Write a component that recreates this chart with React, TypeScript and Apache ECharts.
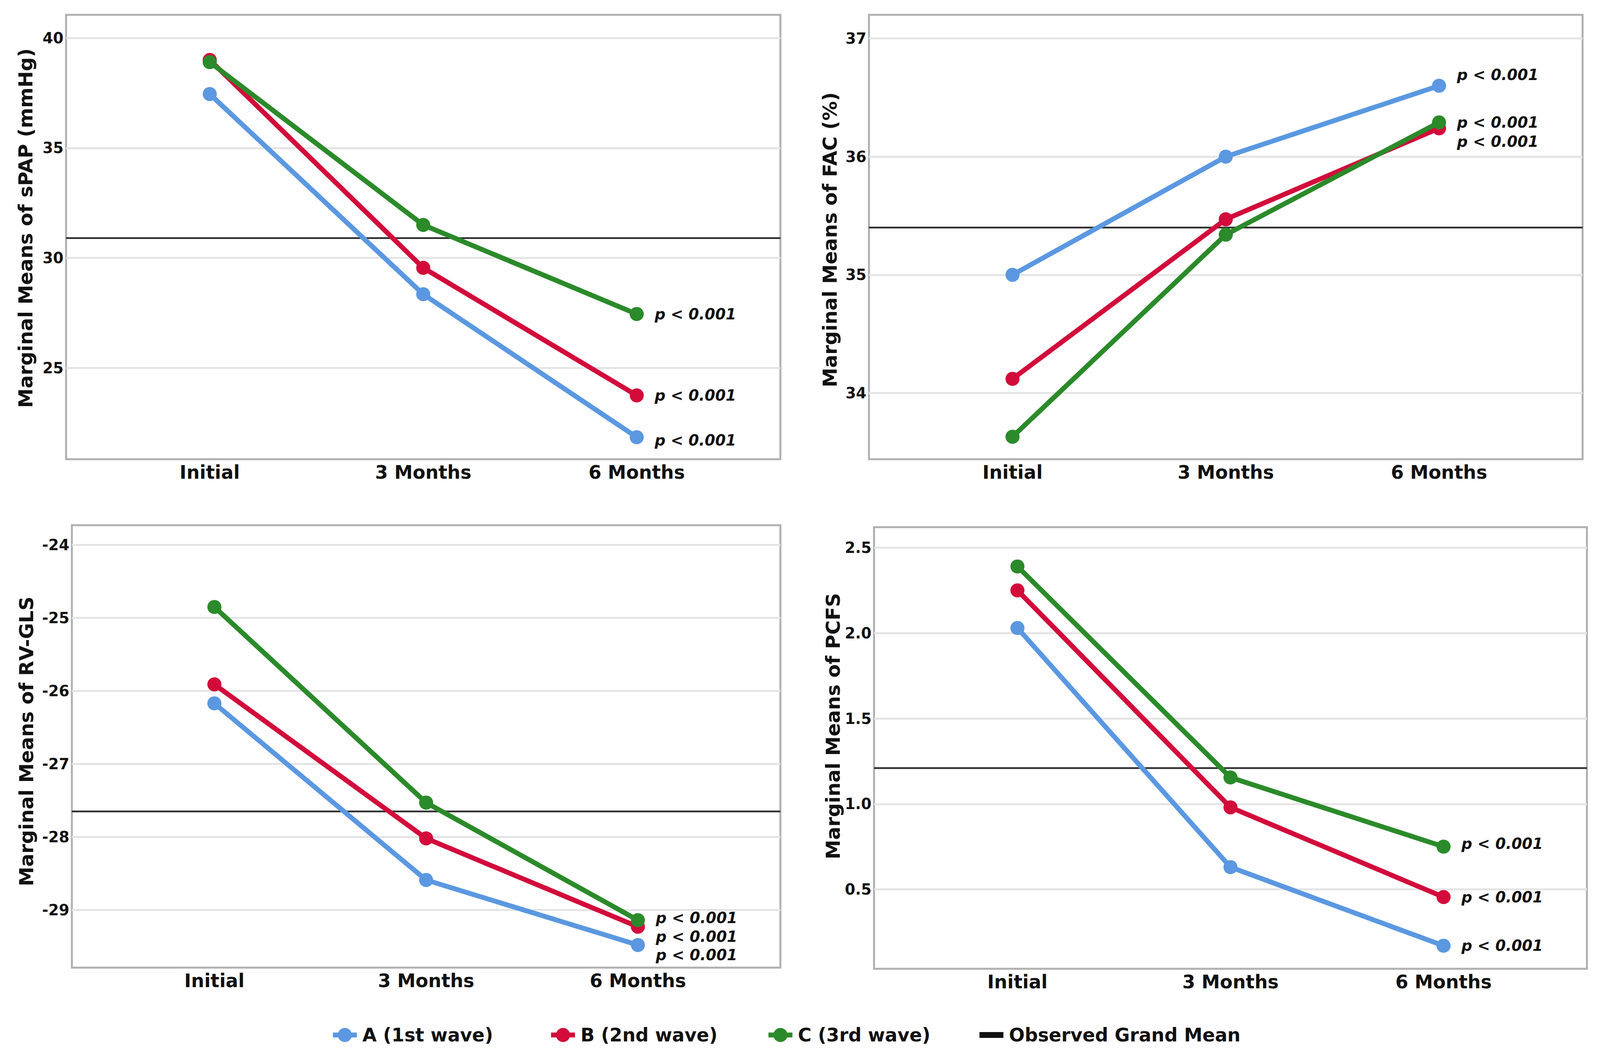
import React, { useEffect, useRef } from "react";
import * as echarts from "echarts";

const categories = ["Initial", "3 Months", "6 Months"];
const seriesNames = ["A (1st wave)", "B (2nd wave)", "C (3rd wave)"];
const meanName = "Observed Grand Mean";
const colors = ["#5b98e1", "#d20b3b", "#2b8a2a"];

const panelTitles = [
  "Marginal Means of sPAP (mmHg)",
  "Marginal Means of FAC (%)",
  "Marginal Means of RV-GLS",
  "Marginal Means of PCFS",
];

// values per panel: [A, B, C] x [Initial, 3 Months, 6 Months]
const sPAP = [
  [37.45, 28.35, 21.85],
  [39.0, 29.55, 23.75],
  [38.9, 31.5, 27.45],
];
const FAC = [
  [35.0, 36.0, 36.6],
  [34.12, 35.47, 36.24],
  [33.63, 35.34, 36.29],
];
const RVGLS = [
  [-26.17, -28.59, -29.48],
  [-25.91, -28.02, -29.23],
  [-24.85, -27.53, -29.14],
];
const PCFS = [
  [2.03, 0.63, 0.17],
  [2.25, 0.98, 0.455],
  [2.39, 1.155, 0.75],
];

const grandMeans = [30.9, 35.4, -27.65, 1.21];

const yTicks = [
  [25, 30, 35, 40],
  [34, 35, 36, 37],
  [-29, -28, -27, -26, -25, -24],
  [0.5, 1.0, 1.5, 2.0, 2.5],
];
const yRanges = [
  [20.85, 41.05],
  [33.44, 37.2],
  [-29.79, -23.73],
  [0.035, 2.62],
];
const yDecimals = [0, 0, 0, 1];

const pLabel = "p < 0.001";

// layout (designed for 4408 x 2712, scaled to the viewport)
const DW = 4408;
const DH = 2712;
const X_MIN = -0.673;
const X_MAX = 2.673;
const grids = [
  { left: 182, top: 38, width: 1968, height: 1138 },
  { left: 2394, top: 38, width: 1966, height: 1138 },
  { left: 198, top: 1345, width: 1952, height: 1133 },
  { left: 2408, top: 1350, width: 1964, height: 1131 },
];
const nameGaps = [84, 80, 98, 86];
// vertical shift of y-axis titles (negative = up)
const nameShifts = [-23, 7, -13, -56];
const labelOffsets = [
  [8, 0, 0],
  [-28, 34, 0],
  [25, 25, -6],
  [0, 0, -8],
];
const legendLefts = [905, 1506, 2105, 2693];

const FONT = "DejaVu Sans";

export default function App() {
  const ref = useRef<HTMLDivElement>(null);
  const W = window.innerWidth || DW;
  const H = window.innerHeight || DH;
  useEffect(() => {
    document.body.style.margin = "0";
    document.documentElement.style.overflow = "hidden";
    if (!ref.current) return;
    const sx = W / DW;
    const sy = H / DH;
    const fs = Math.sqrt(sx * sy);
    const chart = echarts.init(ref.current, null, { renderer: "svg" });
    const panels = [sPAP, FAC, RVGLS, PCFS];

    const xAxis: any[] = [];
    const yAxis: any[] = [];
    const series: any[] = [];

    panels.forEach((panel, pi) => {
      const shift = nameShifts[pi] * sy;
      xAxis.push({
        type: "value",
        gridIndex: pi,
        min: X_MIN,
        max: X_MAX,
        axisLine: { show: false },
        axisTick: { show: false, customValues: [0, 1, 2] },
        splitLine: { show: false },
        axisLabel: {
          customValues: [0, 1, 2],
          formatter: (v: number) => categories[Math.round(v)] ?? "",
          fontFamily: FONT,
          fontWeight: "bold",
          fontSize: 49 * fs,
          color: "#111",
          margin: 10 * sy,
        },
      });
      yAxis.push({
        type: "value",
        gridIndex: pi,
        min: yRanges[pi][0],
        max: yRanges[pi][1],
        name: panelTitles[pi],
        nameLocation: "middle",
        nameGap: nameGaps[pi] * sx,
        nameTextStyle: {
          fontFamily: FONT,
          fontWeight: "bold",
          fontSize: 50 * sy,
          color: "#111",
          padding:
            shift < 0 ? [0, 0, 0, -2 * shift] : [0, 2 * shift, 0, 0],
        },
        axisLine: { show: false },
        axisTick: { show: false, customValues: yTicks[pi] },
        splitLine: {
          show: true,
          lineStyle: { color: "#e4e4e4", width: 5 * sy },
        },
        axisLabel: {
          customValues: yTicks[pi],
          formatter: (v: number) => v.toFixed(yDecimals[pi]),
          fontFamily: FONT,
          fontWeight: "bold",
          fontSize: 40 * fs,
          color: "#111",
          margin: 7 * sx,
        },
      });
      series.push({
        name: meanName,
        type: "line",
        xAxisIndex: pi,
        yAxisIndex: pi,
        data: [
          [X_MIN, grandMeans[pi]],
          [X_MAX, grandMeans[pi]],
        ],
        symbol: "none",
        color: "#111",
        lineStyle: { color: "#2e2e2e", width: 4.5 * sy },
        z: 1,
        silent: true,
      });
      panel.forEach((vals, si) => {
        series.push({
          name: seriesNames[si],
          type: "line",
          xAxisIndex: pi,
          yAxisIndex: pi,
          color: colors[si],
          symbol: "circle",
          symbolSize: 36 * sy,
          lineStyle: { width: 12.5 * sy, color: colors[si] },
          itemStyle: { color: colors[si] },
          z: 2 + si,
          data: vals.map((v, ci) => {
            const item: any = { value: [ci, v] };
            if (ci === vals.length - 1) {
              item.label = {
                show: true,
                position: "right",
                distance: 30 * sx,
                offset: [0, labelOffsets[pi][si] * sy],
                formatter: pLabel,
                fontFamily: FONT,
                fontWeight: "bold",
                fontStyle: "italic",
                fontSize: 40 * fs,
                color: "#111",
              };
            }
            return item;
          }),
        });
      });
    });

    const legendNames = [...seriesNames, meanName];
    const legend = legendNames.map((name, i) => ({
      left: legendLefts[i] * sx,
      top: 2622 * sy,
      itemWidth: 66 * sx,
      itemHeight: 45 * sy,
      lineStyle: { width: 12.5 * sy },
      textStyle: {
        fontFamily: FONT,
        fontWeight: "bold",
        fontSize: 49 * fs,
        color: "#111",
        padding: [0, 0, 0, 10 * sx],
      },
      data: [
        i === 3 ? { name, icon: "path://M0 0H62V15H0Z" } : { name },
      ],
    }));

    chart.setOption({
      animation: false,
      backgroundColor: "#ffffff",
      grid: grids.map((g) => ({
        left: g.left * sx,
        top: g.top * sy,
        width: g.width * sx,
        height: g.height * sy,
        show: true,
        borderColor: "#b0b0b0",
        borderWidth: 5 * sy,
        backgroundColor: "transparent",
      })),
      xAxis,
      yAxis,
      series,
      legend,
    });
    return () => chart.dispose();
  }, []);
  return <div ref={ref} style={{ width: W, height: H }} />;
}
